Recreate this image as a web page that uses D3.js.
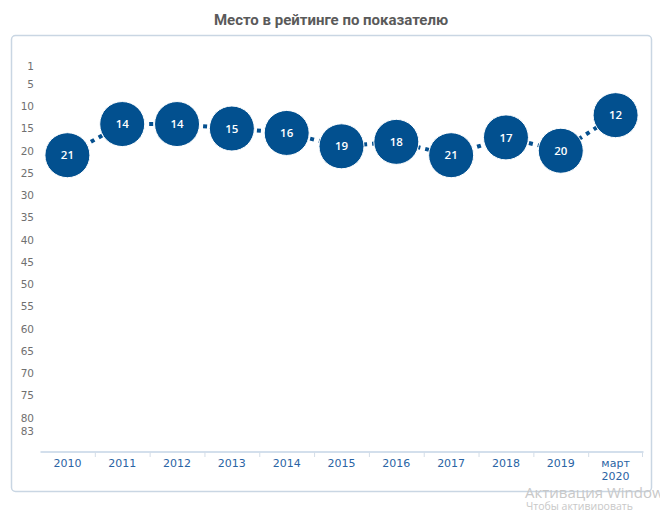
<!DOCTYPE html>
<html><head><meta charset="utf-8">
<script src="https://cdn.jsdelivr.net/npm/d3@7"></script>
<style>body{margin:0;background:#fff;} svg{display:block;}</style>
</head><body>
<script>
const categories = ["2010","2011","2012","2013","2014","2015","2016","2017","2018","2019","март 2020"];
const ranks = [21,14,14,15,16,19,18,21,17,20,12];
const yTicks = [1,5,10,15,20,25,30,35,40,45,50,55,60,65,70,75,80,83];
const title = "Место в рейтинге по показателю";

const W = 660, H = 510;
const svg = d3.select("body").append("svg").attr("width", W).attr("height", H);

// panel
svg.append("rect").attr("x", 11.5).attr("y", 35.5).attr("width", 640).attr("height", 456)
  .attr("rx", 4).attr("fill", "#fff").attr("stroke", "#c9d6e3").attr("stroke-width", 1.5);

svg.append("text").attr("x", 331).attr("y", 25).attr("text-anchor", "middle")
  .attr("font-family", "Roboto, 'Open Sans', sans-serif").attr("font-weight", "bold")
  .attr("font-size", 15).attr("fill", "#5a5a5a").text(title);

const x = d3.scaleBand().domain(categories).range([40, 643]).padding(0);
const y = d3.scaleLinear().domain([1, 83]).range([66.2, 431.1]);

// y axis labels
const ya = svg.append("g").attr("transform", "translate(34,0)")
  .call(d3.axisLeft(y).tickValues(yTicks).tickSize(0).tickPadding(0));
ya.select(".domain").remove();
ya.selectAll("text").attr("font-family", "'DejaVu Sans', Verdana, sans-serif")
  .attr("font-size", 10.5).attr("fill", "#707070");

// x axis
const xa = svg.append("g").attr("transform", "translate(0,451.5)")
  .call(d3.axisBottom(x).tickSize(0).tickPadding(0));
xa.select(".domain").attr("stroke", "#c5d5e6").attr("stroke-width", 1.5);
xa.selectAll("text").remove();
// boundary ticks
svg.append("g").selectAll("line").data(categories.slice(1).concat(["__end"]))
  .join("line")
  .attr("x1", d => d === "__end" ? 642.5 : x(d) + 0.5)
  .attr("x2", d => d === "__end" ? 642.5 : x(d) + 0.5)
  .attr("y1", 452).attr("y2", 457).attr("stroke", "#d3dde8").attr("stroke-width", 1);
// labels
const xl = svg.append("g");
categories.forEach(c => {
  const parts = c.split(" ");
  const t = xl.append("text").attr("x", x(c) + x.bandwidth() / 2).attr("y", 467)
    .attr("text-anchor", "middle").attr("font-family", "'DejaVu Sans', Verdana, sans-serif")
    .attr("font-size", 11).attr("fill", "#2a64a4");
  parts.forEach((p, i) => t.append("tspan").attr("x", x(c) + x.bandwidth() / 2)
    .attr("dy", i === 0 ? 0 : 12.5).text(p));
});

// dotted line
const line = d3.line().x((d, i) => x(categories[i]) + x.bandwidth() / 2).y(d => y(d));
svg.append("path").datum(ranks).attr("d", line).attr("fill", "none")
  .attr("stroke", "#05508f").attr("stroke-width", 4).attr("stroke-dasharray", "4,5");

// bubbles
const g = svg.append("g").selectAll("g").data(ranks).join("g")
  .attr("transform", (d, i) => `translate(${x(categories[i]) + x.bandwidth() / 2},${y(d)})`);
g.append("circle").attr("r", 22.5).attr("fill", "#02508f").attr("stroke", "#fff").attr("stroke-width", 1);
g.append("text").attr("text-anchor", "middle").attr("dy", "0.36em")
  .attr("font-family", "'Open Sans', 'DejaVu Sans', sans-serif").attr("font-size", 11.5)
  .attr("font-weight", 600).attr("fill", "#fff").text(d => d);

// OS watermark seen in reference
svg.append("text").attr("x", 525).attr("y", 498).attr("font-family", "'Open Sans', sans-serif")
  .attr("font-size", 15).attr("fill", "#c8c8c8").text("Активация Windows");
svg.append("text").attr("x", 526).attr("y", 510).attr("font-family", "'Open Sans', sans-serif")
  .attr("font-size", 10.5).attr("fill", "#c8c8c8").text("Чтобы активировать");
</script>
</body></html>
